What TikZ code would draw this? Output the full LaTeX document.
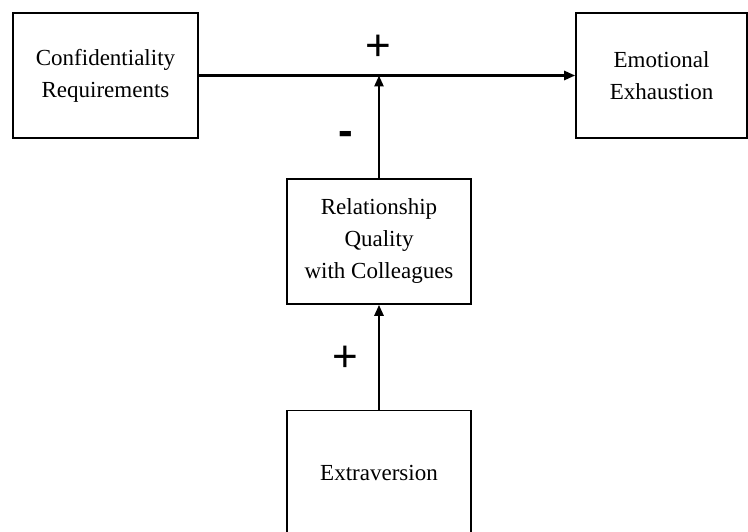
\documentclass[tikz,border=0pt]{standalone}
\usepackage{fontspec}
\setmainfont{Liberation Serif}
\newfontfamily\signfont{Liberation Sans}
\usetikzlibrary{arrows.meta,positioning}

\begin{document}
\begin{tikzpicture}[x=1pt,y=1pt,every node/.style={font=\fontsize{23}{32}\selectfont}]
  \tikzstyle{box}=[draw=black,line width=1.6pt,minimum height=125pt,
                   align=center,inner sep=0pt]
  \tikzstyle{sign}=[font=\signfont\fontsize{44}{44}\selectfont,inner sep=0pt]
  \tikzstyle{link}=[line width=2.5pt,-{Triangle[length=11pt,width=9pt]}]
  \useasboundingbox (0,0) rectangle (748,-532);

  \node[box,minimum width=185pt] (conf) at (105.5,-75.5) {Confidentiality\\Requirements};
  \node[box,minimum width=171pt] (emo) at (661.5,-75.5) {Emotional\\Exhaustion};
  \node[box,minimum width=184pt] (rel) at (379,-241.5) {Relationship\\Quality\\with Colleagues};
  \node[box,minimum width=184pt,below=105pt of rel] (extra) {Extraversion};

  % paths
  \coordinate (join) at (rel |- conf);
  \draw[link] (conf) -- (emo);
  \draw[link] (rel) -- (join);
  \draw[link] (extra) -- (rel);

  % signs
  \node[sign] (plusA) at (378,-48) {+};
  \node[sign,font=\signfont\bfseries\fontsize{44}{44}\selectfont] (minus) at (346,-138) {-};
  \node[sign] (plusB) at (345,-359) {+};
\end{tikzpicture}
\end{document}
